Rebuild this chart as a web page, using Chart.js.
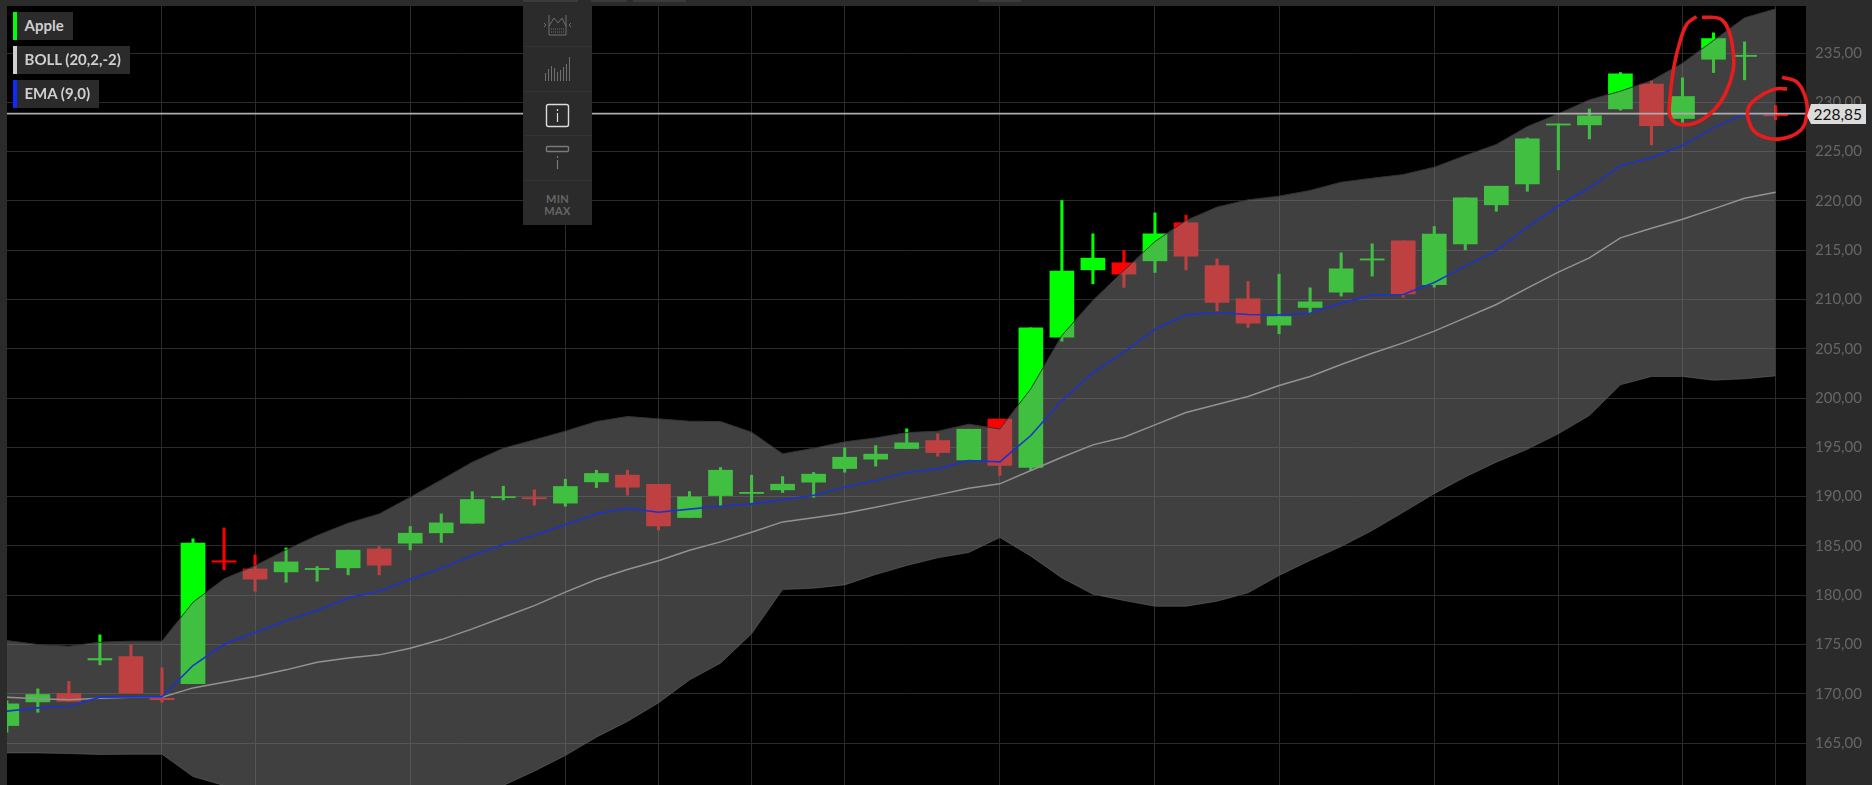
<!DOCTYPE html>
<html>
<head>
<meta charset="utf-8">
<title>Apple</title>
<script src="https://cdn.jsdelivr.net/npm/chart.js@4/dist/chart.umd.min.js"></script>
<style>
	html,body{margin:0;padding:0;background:#2b2b2b;overflow:hidden;font-family:Lato,sans-serif;}
	#wrap{position:relative;width:1872px;height:785px;}
	canvas{display:block;}
	.tag{position:absolute;left:13px;height:28px;line-height:27px;background:#2b2b2b;color:#cfcfcf;font-size:15px;font-weight:700;padding:0 9px 0 11.5px;box-sizing:border-box;white-space:nowrap;}
	.tag i{position:absolute;left:0;top:0;bottom:0;width:4px;}
	.tab{position:absolute;top:0;height:2px;background:#3b3b3b;}
	#menu{position:absolute;left:523px;top:3px;width:69px;height:222px;background:#2b2b2b;}
	#menu svg{position:absolute;left:0;top:0;}
	#menu .minmax{position:absolute;left:0;width:69px;top:190px;text-align:center;color:#666;font-size:11px;line-height:11.5px;font-weight:700;letter-spacing:.3px;}
	#price{position:absolute;left:1807px;width:59px;height:20px;line-height:20px;background:#dcdcdc;color:#111;font-size:15.5px;text-align:right;padding-right:4px;box-sizing:border-box;clip-path:polygon(4px 0,100% 0,100% 100%,4px 100%,0 60%);}
</style>
</head>
<body>
<div id="wrap">
	<canvas id="chart" width="1872" height="785"></canvas>
	<div class="tab" style="left:523px;width:55px"></div>
	<div class="tab" style="left:591px;width:36px"></div>
	<div class="tab" style="left:633px;width:53px"></div>
	<div class="tab" style="left:979px;width:42px"></div>
	<div class="tag" style="top:12px"><i style="background:#00ff00"></i>Apple</div>
	<div class="tag" style="top:46px"><i style="background:#cfcfcf"></i>BOLL (20,2,-2)</div>
	<div class="tag" style="top:80px"><i style="background:#0a2cff"></i>EMA (9,0)</div>
	<div id="menu">
		<svg width="69" height="222" fill="none">
			<g stroke="#333" stroke-width="1"><path d="M0 43.5H69M0 88.5H69M0 132.5H69M0 177.5H69"/></g>
			<g stroke="#6e6e6e" stroke-width="1">
				<path d="M26 12V32H43V12M26 23L31 15L35 20L39 15L43 23M21 20L23 22L21 24M48 20L46 22L48 24"/>
				<path d="M28 26H41M28 29H41" stroke-dasharray="1 1"/>
				<path d="M22.5 78V70M25.5 78V66M28.5 78V63M31.5 78V65M34.5 78V69M37.5 78V67M40.5 78V64M43.5 78V61M46.5 78V54"/>
			</g>
			<rect x="23.5" y="101.5" width="22" height="22" rx="2" stroke="#dcdcdc" stroke-width="1.4"/>
			<path d="M34.5 106V108M34.5 110V119" stroke="#dcdcdc" stroke-width="1.2"/>
			<rect x="23.5" y="143.5" width="22" height="5" rx="1" stroke="#7a7a7a" stroke-width="1.4"/>
			<path d="M34.5 153V155M34.5 157V166" stroke="#7a7a7a" stroke-width="1.2"/>
		</svg>
		<div class="minmax">MIN<br>MAX</div>
	</div>
	<div id="price"></div>
</div>
<script>
const lastPrice = 228.85;
const yTickStep = 5;
const yMin = 160.75;
const yMax = 239.77;
const xMin = 0.006;
const xMax = 57.98;

// candles whose date has a vertical grid line
const gridCandles = [5,8,13,18,21,24,27,32,37,41,46,50,54,57];

const opens = [166.78,169.18,170.03,173.43,173.78,169.55,171.04,183.5,182.67,182.37,182.6,182.78,184.7,185.28,186.33,187.3,189.9,189.9,189.34,191.5,192.18,191.26,187.88,190.11,190.32,190.69,191.47,192.85,193.8,194.88,195.69,193.73,197.86,192.96,206.18,213.01,213.72,213.92,217.78,213.45,210.07,207.4,209.19,210.74,214.0,215.95,211.49,215.64,219.6,221.73,227.69,227.71,229.33,231.84,228.36,234.37,234.65,228.75];
const closes = [168.98,169.93,169.25,173.58,170.06,169.4,185.28,183.35,181.63,183.38,182.72,184.57,183.05,186.29,187.34,189.71,190.0,189.78,191.03,192.35,190.96,187.04,189.98,192.68,190.44,191.26,192.28,194.0,194.31,195.46,194.47,196.84,193.16,207.12,212.87,214.19,212.57,216.66,214.39,209.69,207.6,208.27,209.76,213.11,214.12,210.57,216.63,220.31,221.49,226.29,227.81,228.63,232.89,227.64,230.59,236.47,234.77,228.63];
const highs = [169.3,170.5,171.25,175.98,174.97,172.63,185.72,186.83,184.09,184.8,182.91,184.57,184.94,186.97,188.25,190.5,191.06,190.69,191.77,192.68,192.68,191.26,190.52,192.95,192.18,192.04,192.45,194.95,195.18,196.88,196.37,196.84,197.86,207.12,220.04,216.66,214.97,218.79,218.55,214.12,211.82,212.57,211.18,214.73,215.65,215.95,217.4,220.31,221.49,226.39,227.81,229.33,233.02,232.21,232.48,237.05,236.13,229.67];
const lows = [166.1,168.13,169.25,172.94,170.06,169.15,171.04,182.57,180.41,181.32,181.42,182.07,182.07,184.6,185.35,187.3,189.67,189.13,189.03,190.92,190.15,186.63,187.88,188.99,189.4,190.42,189.94,192.48,193.09,194.88,194.1,193.73,192.15,192.65,205.77,211.59,211.22,212.74,213.0,208.82,207.16,206.52,208.61,210.34,212.37,210.23,211.25,215.03,218.95,220.98,223.15,226.29,229.2,225.68,227.98,233.02,232.28,228.22];

const bollUpper = [175.4,175.0,174.83,175.24,175.34,175.34,179.29,181.66,183.0,184.6,186.06,187.31,188.25,189.94,191.7,193.5,194.91,195.76,196.64,197.62,198.13,197.89,197.65,197.62,196.54,194.34,194.91,195.56,195.96,196.5,196.64,197.35,196.86,200.94,206.35,209.9,212.94,215.88,218.01,219.37,220.11,220.48,221.06,221.9,222.3,222.67,223.42,224.6,225.72,227.54,228.83,230.25,231.13,232.21,233.97,236.27,238.57,239.48];
const bollLower = [164.0,164.0,163.94,163.84,163.87,163.87,161.61,160.69,159.9,159.3,158.9,158.7,158.6,158.9,159.4,160.0,160.7,162.15,163.74,165.6,167.19,169.08,171.4,173.11,176.08,180.58,180.71,181.05,182.1,183.01,183.79,184.33,185.85,183.96,181.76,180.1,179.46,178.88,178.88,179.39,180.24,182.0,183.52,184.94,186.56,188.42,190.3,192.0,193.5,194.8,196.37,198.23,201.34,202.19,202.19,201.81,201.95,202.25];
const bollMiddle = [169.66,169.49,169.39,169.55,169.66,169.66,170.6,171.18,171.75,172.43,173.2,173.64,173.95,174.62,175.5,176.59,177.77,178.95,180.31,181.59,182.61,183.49,184.57,185.41,186.39,187.44,187.85,188.32,188.93,189.57,190.18,190.86,191.3,192.65,194.0,195.25,196.03,197.28,198.54,199.35,200.16,201.27,202.19,203.4,204.55,205.6,206.79,208.14,209.49,211.15,212.77,214.22,216.25,217.23,218.14,219.19,220.27,220.88];
const ema = [168.24,168.57,168.71,169.66,169.69,169.69,172.87,175.03,176.22,177.4,178.45,179.73,180.41,181.63,182.74,184.03,185.14,186.05,187.17,188.25,188.83,188.42,188.73,189.03,189.27,189.67,190.15,190.96,191.63,192.45,192.82,193.66,193.53,196.2,199.75,202.56,204.66,206.96,208.44,208.68,208.48,208.44,208.61,209.63,210.44,210.51,211.72,213.38,214.97,217.34,219.53,221.33,223.59,224.37,225.62,227.41,228.83,228.83];

// hand drawn red rings, read in candle / price units
const ringOneX = [54.63,55.22,55.49,55.63,55.63,55.38,55.0,54.47,53.93,53.61,53.59,53.72,53.93,54.15,54.45];
const ringOneY = [238.63,238.47,237.28,235.25,233.22,230.86,229.17,227.98,227.75,228.49,230.18,233.56,236.27,237.96,238.7];
const ringTwoX = [57.21,57.69,57.96,58.01,57.8,57.15,56.51,56.19,56.13,56.62,57.0,57.37];
const ringTwoY = [232.55,232.04,230.52,228.83,227.14,226.29,226.63,227.64,229.5,230.86,231.36,231.36];

const upColor = "#00ff00";
const downColor = "#ff0000";

function series(values){
	return values.map((v,i) => ({x:i,y:v}));
}
function pairs(xs,ys){
	return xs.map((v,i) => ({x:v,y:ys[i]}));
}
function lineSet(label,data,color,width,order){
	return {type:"line",label:label,data:data,borderColor:color,borderWidth:width,pointRadius:0,fill:false,tension:0,order:order};
}

const candleColors = opens.map((o,i) => closes[i] >= o ? upColor : downColor);

const plotBackground = {
	id:"plotBackground",
	beforeDraw(chart){
		const a = chart.chartArea;
		chart.ctx.fillStyle = "#000";
		chart.ctx.fillRect(a.left,a.top,a.right-a.left,a.bottom-a.top);
	}
};

const upperBand = lineSet("upper",series(bollUpper),"#333",1,6);
upperBand.fill = {target:"+1"};
upperBand.backgroundColor = "rgba(128,128,128,0.5)";

const ringOne = lineSet("ring1",pairs(ringOneX,ringOneY),"#e81c1c",3.6,0);
const ringTwo = lineSet("ring2",pairs(ringTwoX,ringTwoY),"#e81c1c",3.6,0);
ringOne.tension = 0.4;
ringTwo.tension = 0.4;
ringOne.clip = false;
ringTwo.clip = false;

const chart = new Chart(document.getElementById("chart"),{
	type:"bar",
	data:{
		datasets:[
			ringOne,
			ringTwo,
			lineSet("last",[{x:xMin,y:lastPrice},{x:xMax,y:lastPrice}],"#adadad",1.6,1),
			lineSet("EMA (9,0)",series(ema),"#1b33c9",1.6,2),
			lineSet("BOLL (20,2,-2)",series(bollMiddle),"#929292",1.5,3),
			upperBand,
			lineSet("lower",series(bollLower),"#333",1,7),
			{label:"body",data:opens.map((o,i) => ({x:i,y:[o,closes[i]]})),backgroundColor:candleColors,barThickness:24,grouped:false,order:8},
			{label:"wick",data:lows.map((l,i) => ({x:i,y:[l,highs[i]]})),backgroundColor:candleColors,barThickness:2.4,grouped:false,order:9}
		]
	},
	options:{
		responsive:false,
		animation:false,
		layout:{padding:{left:7,top:6,right:0,bottom:0}},
		plugins:{legend:{display:false},tooltip:{enabled:false}},
		scales:{
			x:{
				type:"linear",
				min:xMin,
				max:xMax,
				offset:false,
				afterBuildTicks(scale){
					scale.ticks = gridCandles.map(v => ({value:v}));
				},
				afterFit(scale){
					scale.height = 0;
					scale.paddingLeft = 0;
					scale.paddingRight = 0;
				},
				ticks:{display:false},
				border:{display:false},
				grid:{color:"#2b2b2b",lineWidth:1,drawTicks:false,offset:false}
			},
			y:{
				position:"right",
				min:yMin,
				max:yMax,
				afterFit(scale){
					scale.width = 66;
					scale.paddingTop = 0;
					scale.paddingBottom = 0;
				},
				ticks:{
					stepSize:yTickStep,
					includeBounds:false,
					padding:9,
					color:"#666",
					font:{family:"Lato",size:15},
					callback:(v) => v.toFixed(2).replace(".",",")
				},
				border:{display:false},
				grid:{color:"#2b2b2b",lineWidth:1,drawTicks:false}
			}
		}
	},
	plugins:[plotBackground]
});

// last price flag sits on the y scale
const priceTag = document.getElementById("price");
priceTag.textContent = lastPrice.toFixed(2).replace(".",",");
priceTag.style.top = Math.round(chart.scales.y.getPixelForValue(lastPrice)-9.5)+"px";
</script>
</body>
</html>
